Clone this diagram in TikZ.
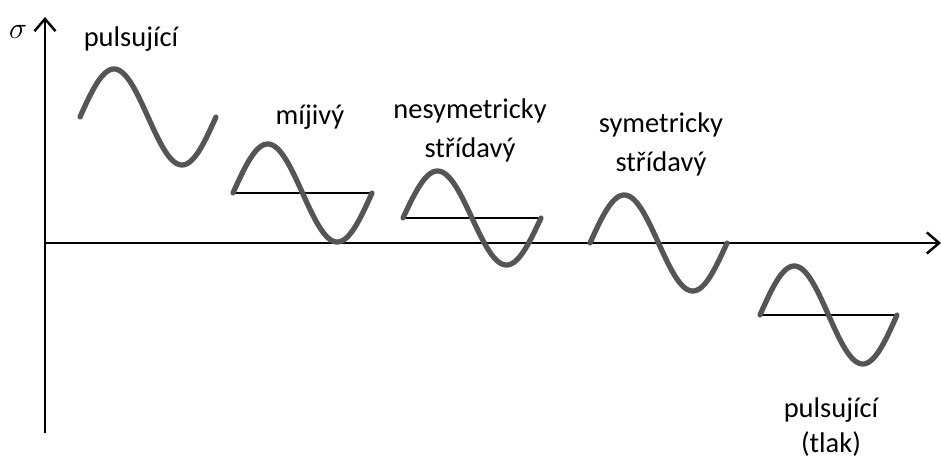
\documentclass[tikz,border=0pt]{standalone}
\usepackage{fontspec}
\setmainfont{Carlito}
\usetikzlibrary{arrows.meta}
\definecolor{waveGray}{HTML}{555555}

\begin{document}
\begin{tikzpicture}[x=0.02cm, y=-0.02cm,
    axis/.style={line width=1.4pt, -{Straight Barb[length=7pt, width=12pt]}},
    wave/.style={line width=3pt, waveGray, line cap=round},
    mean/.style={line width=1.1pt},
    lbl/.style={font=\fontsize{16.2}{22.5}\selectfont, align=center, inner sep=0pt},
]
    \useasboundingbox (0,0) rectangle (941,459);

    % axes
    \coordinate (O) at (45,243);
    \coordinate (ytop) at (45,17);
    \coordinate (ybot) at (45,433);
    \coordinate (xend) at (941,243);
    \draw[axis] (ybot) -- (ytop);
    \draw[axis] (O) -- (xend);
    \node[lbl] (sigma) at (18,32) {$\sigma$};

    % pulsujici
    \draw[wave] plot[domain=0:360, samples=73] ({80+136/360*\x}, {117-48*sin(\x)});
    \node[lbl, anchor=base] (puls) at (131,47) {pulsující};

    % mijivy
    \draw[mean] (233,193) -- (372,193);
    \draw[wave] plot[domain=0:360, samples=73] ({233+139/360*\x}, {193-49*sin(\x)});
    \node[lbl, anchor=base] (mij) at (310,125) {míjivý};

    % nesymetricky stridavy
    \draw[mean] (403,218) -- (541,218);
    \draw[wave] plot[domain=0:360, samples=73] ({403+138/360*\x}, {218-47*sin(\x)});
    \node[lbl, anchor=base] (nesym) at (470,158) {nesymetricky\\střídavý};

    % symetricky stridavy
    \draw[wave] plot[domain=0:360, samples=73] ({590+137/360*\x}, {243-48*sin(\x)});
    \node[lbl, anchor=base] (sym) at (661,172) {symetricky\\střídavý};

    % pulsujici (tlak)
    \draw[mean] (760,315) -- (897,315);
    \draw[wave] plot[domain=0:360, samples=73] ({760+137/360*\x}, {315-49*sin(\x)});
    \node[lbl, anchor=base, font=\fontsize{16.2}{20}\selectfont] (tlak) at (831,453) {pulsující\\(tlak)};
\end{tikzpicture}
\end{document}
